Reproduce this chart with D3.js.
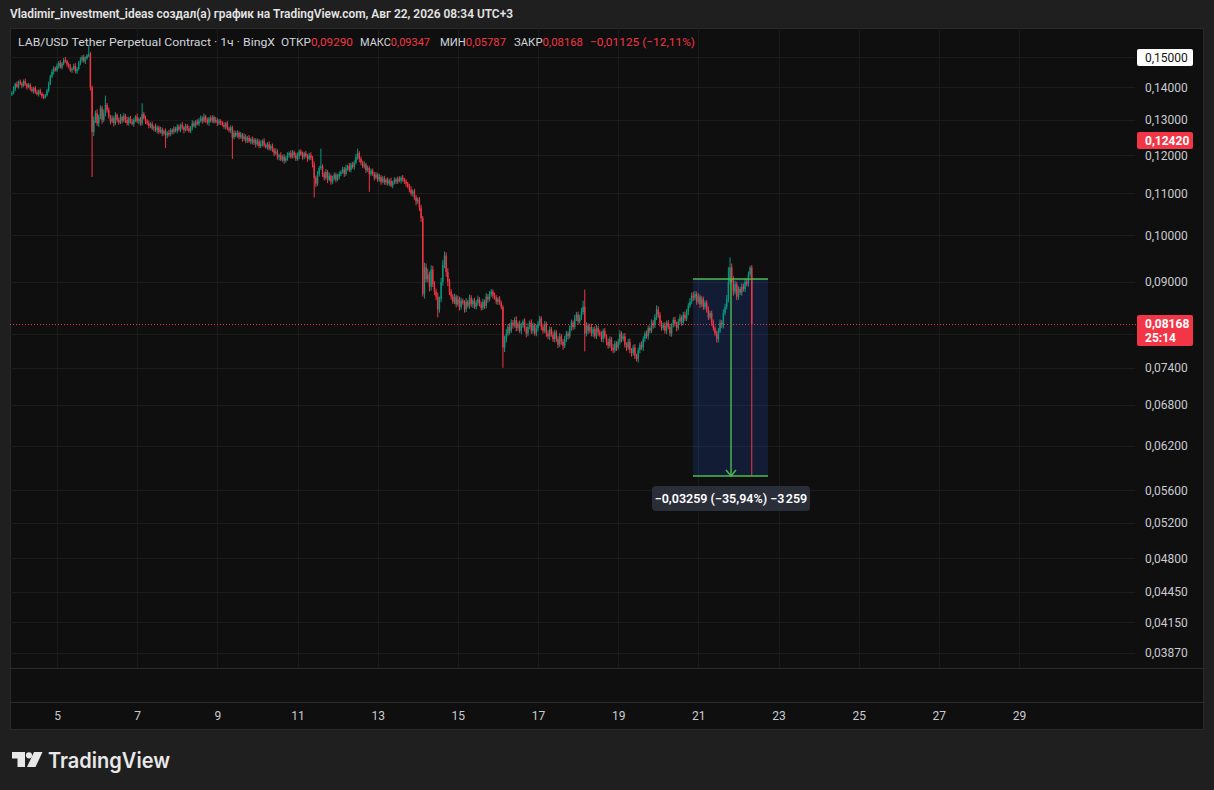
<!DOCTYPE html>
<html>
<head>
<meta charset="utf-8">
<script src="https://cdn.jsdelivr.net/npm/d3@7"></script>
<style>
  html, body { margin: 0; padding: 0; background: #1f1f1f; }
  svg { display: block; font-family: Roboto, "Liberation Sans", sans-serif; }
</style>
</head>
<body>
<svg id="chart" width="1214" height="790"></svg>
<script>
// hourly closes of LAB/USDT perp (BingX), in units of 0.0001, Aug 3 21:00 -> Aug 22 08:00
var closes = [
  1382,1395,1410,1402,1418,1412,1405,1420,1410,1400,1408,
  1395,1388,1398,1385,1378,1390,1380,1372,1368,1375,
  1390,1410,1435,1450,1462,1455,
  1470,1480,1465,1478,1490,1485,1475,
  1468,1455,1460,1470,1452,1460,1478,
  1490,1500,1485,1495,1505,
  1510,1400,1265,
  1300,1320,1290,1310,1335,1300,1320,1345,1330,
  1310,1295,1305,1290,1315,1300,1292,1308,1298,1312,1300,1290,1305,1295,1288,1300,1310,1296,1302,1290,1318,1305,1296,
  1290,1282,1288,1275,1280,1270,1278,1265,1272,1260,1268,1255,1262,1258,1270,1265,
  1275,1268,1280,1272,1285,1278,1270,1282,1275,1268,1278,1290,1283,1295,1288,1298,
  1305,1296,1310,1300,1292,1305,1298,1308,1295,1300,1290,1296,
  1292,1285,1280,1290,1275,1270,1278,
  1250,1262,
  1255,1262,1250,1258,1245,1252,1240,1248,1238,1245,1235,1242,1230,1238,1225,1232,1240,1228,1222,1230,1218,1225,
  1215,1205,1210,1195,1200,1188,1196,1185,1192,1200,
  1205,1195,1208,1200,1190,1198,1210,1202,1195,1205,1198,1190,1200,1192,
  1175,1140,1125,1150,1165,1170,1150,
  1140,1155,1135,1145,1130,1138,1148,1135,1142,1150,
  1155,1162,1150,1165,1170,1160,1175,1168,1180,
  1195,1205,1190,
  1180,1170,1175,1160,1165,1150,1158,
  1150,1140,1148,1135,1142,1130,1138,1128,1135,1125,1132,1120,1128,1135,1130,
  1138,1132,1140,1135,1130,1125,1118,
  1110,1100,1105,1090,1080,1085,
  1065,1040,875,
  930,905,915,890,925,895,880,
  870,845,865,
  900,935,955,920,
  900,880,870,
  860,870,855,865,850,862,858,845,860,852,868,855,862,850,858,865,855,848,860,852,870,865,875,880,872,868,860,865,858,
  850,775,
  790,800,812,805,820,815,
  825,810,818,805,815,822,808,800,812,820,805,815,800,810,818,
  828,812,805,818,800,795,808,798,790,802,
  790,780,795,785,778,790,800,795,
  810,820,812,828,835,822,830,840,
  850,800,
  815,805,812,800,808,795,810,802,798,790,805,
  795,785,778,790,775,770,782,775,
  785,800,790,795,780,775,785,770,765,775,760,755,
  770,780,775,790,800,795,810,805,820,815,830,
  845,835,820,810,
  815,805,820,812,800,815,825,818,810,822,830,820,835,828,
  840,852,860,872,868,
  875,860,870,855,865,850,858,
  845,830,838,820,810,800,790,
  805,820,815,838,850,865,
  900,930,
  905,880,895,870,885,878,890,
  885,900,895,915,929,
  816.8
];
// wick above / below the body, same units
var wickUp = [
  6,8,5,9,4,7,6,5,8,4,6,
  5,7,4,6,8,3,6,5,7,4,
  5,8,6,9,7,5,
  8,6,9,5,7,10,6,
  6,8,5,7,9,6,8,
  9,6,8,7,5,
  30,8,6,
  10,8,12,6,9,7,11,29,6,
  7,5,9,6,8,4,7,10,5,8,6,9,5,7,8,6,4,9,5,7,32,6,8,
  6,8,5,7,4,9,6,5,8,6,4,7,5,9,6,5,
  7,5,8,6,4,9,5,7,6,8,4,9,6,5,7,8,
  8,6,9,5,7,4,8,6,5,9,6,7,
  6,5,8,4,7,5,6,
  5,8,
  6,8,5,7,4,9,6,5,8,4,7,6,5,8,6,9,4,7,5,6,8,5,
  7,5,9,6,4,8,5,7,6,8,
  5,8,6,4,7,9,5,6,8,4,7,5,6,8,
  6,8,5,7,6,48,5,
  6,8,5,9,4,7,6,5,8,6,
  5,7,6,8,4,9,5,7,6,
  8,13,6,
  6,5,8,4,7,5,6,
  6,5,7,4,8,5,6,7,4,6,5,8,4,6,5,
  5,6,4,7,5,6,4,
  6,8,5,7,6,5,
  6,7,5,
  10,8,12,6,9,8,6,
  6,8,5,
  8,10,9,7,
  8,6,5,
  5,6,4,7,5,6,4,5,7,4,6,5,4,6,5,7,4,5,6,4,7,5,6,5,4,6,5,4,6,
  4,3,
  6,8,5,7,6,5,
  5,7,4,6,5,4,6,5,7,4,6,5,4,6,5,
  5,4,6,5,4,6,5,4,6,5,
  4,5,6,4,5,6,5,4,
  5,6,4,7,5,6,5,8,
  12,34,
  6,4,5,6,4,5,6,4,5,6,4,
  5,4,6,5,4,6,5,4,
  5,6,4,5,6,4,5,6,4,5,6,4,
  5,4,6,5,4,6,5,4,6,5,6,
  8,6,5,4,
  5,6,4,5,6,4,5,6,4,5,6,4,5,6,
  6,5,7,6,8,
  6,5,7,4,6,5,4,
  5,6,4,5,6,4,5,
  5,6,5,7,6,8,
  30,21,
  8,6,7,5,6,4,7,
  6,7,5,6,4,
  5.7
];
var wickDown = [
  5,4,7,3,6,5,8,4,5,7,3,
  6,4,8,5,3,7,4,6,5,3,
  4,6,3,5,8,4,
  5,9,4,7,6,5,8,
  7,5,8,4,6,9,5,
  6,8,5,9,4,
  6,10,123,
  12,9,7,10,8,11,6,9,8,
  6,8,4,9,5,7,6,4,8,5,9,6,7,5,4,8,6,5,9,7,6,4,8,
  5,7,6,4,8,5,9,6,4,7,5,35,8,6,5,7,
  6,4,7,5,8,6,9,4,7,5,6,8,5,7,4,6,
  5,7,4,8,6,9,5,7,6,4,8,5,
  7,4,6,8,5,6,9,
  60,6,
  5,7,6,4,8,5,7,6,4,8,5,7,9,4,6,5,8,6,4,7,5,6,
  6,8,5,7,9,4,6,8,5,7,
  7,5,4,8,6,5,9,4,7,6,5,8,4,6,
  8,50,9,6,7,5,8,
  7,5,9,4,8,6,5,7,4,6,
  6,4,8,5,7,5,6,4,7,
  5,7,9,
  7,5,6,8,5,46,6,
  5,7,4,6,5,8,4,6,7,5,6,4,7,5,6,
  6,4,7,5,6,8,5,
  7,5,8,6,9,6,
  8,9,5,
  9,7,6,10,8,6,7,
  7,15,6,
  6,8,7,10,
  9,7,6,
  4,5,6,4,7,5,4,6,5,4,6,5,7,4,5,6,4,5,4,6,5,7,4,5,6,4,5,6,4,
  5,35,
  8,6,5,7,4,6,
  4,6,5,4,6,5,4,7,5,4,6,5,4,5,6,
  4,6,5,4,6,5,7,4,5,6,
  5,6,4,5,7,4,5,6,
  4,5,6,4,5,6,4,5,
  5,32,
  5,6,4,5,6,4,5,6,4,5,6,
  4,6,5,4,6,5,4,6,
  4,5,6,4,5,6,4,5,6,4,5,4,
  6,5,4,6,5,4,6,5,4,6,5,
  5,6,7,5,
  4,5,6,4,5,6,4,5,6,4,5,6,4,5,
  5,6,4,5,6,
  5,6,4,7,5,6,5,
  6,5,4,6,5,4,6,
  6,4,5,6,4,5,
  6,5,
  6,8,5,7,6,5,6,
  5,6,4,5,6,
  238.1
];
var firstOpen = 1378;
var PRICE_UNIT = 1e-4;
var lastBarTime = new Date(2026, 7, 22, 8);

var priceTicks = [0.15, 0.14, 0.13, 0.12, 0.11, 0.10, 0.09, 0.08, 0.074, 0.068, 0.062, 0.056, 0.052, 0.048, 0.0445, 0.0415, 0.0387];
var dayTicks = [5, 7, 9, 11, 13, 15, 17, 19, 21, 23, 25, 27, 29];

var headerText = 'Vladimir_investment_ideas создал(а) график на TradingView.com, Авг 22, 2026 08:34 UTC+3';
var legendTitle = 'LAB/USD Tether Perpetual Contract · 1ч · BingX';
var legendLabels = ['ОТКР', 'МАКС', 'МИН', 'ЗАКР'];
var legendValues = ['0,09290', '0,09347', '0,05787', '0,08168'];
var legendChange = '−0,01125 (−12,11%)';

var lastPrice = 0.08168;
var countdown = '25:14';
var alertPrice = 0.1242;
var topPrice = 0.15;

var measurePrices = [0.09046, 0.05787];
var measureTimes = [new Date(2026, 7, 20, 21), new Date(2026, 7, 22, 17, 30)];
var measureText = '−0,03259 (−35,94%) −3\u202F259';

var d3 = window.d3;

var C = {
  up: '#089981', down: '#f23645', grid: '#1b1b1b', sep: '#2b2b2b',
  text: '#c9cbd0', pane: '#0f0f0f', border: '#2a2a2a'
};
var pane = { left: 10, top: 28, right: 1137, bottom: 668, edge: 1203, foot: 729 };

var fmtPrice = d => d3.format('.5f')(d).replace('.', ',');
var snap = v => Math.round(v) + 0.5;

/**
 * scales
 */
var x = d3.scaleTime()
  .domain([new Date(2026, 7, 5), new Date(2026, 7, 29)])
  .range([57, 1019]);

var y = d3.scaleLog()
  .domain([0.15, 0.0387])
  .range([57, 653]);

var bars = closes.map((c, i) => {
  var o = i ? closes[i - 1] : firstOpen;
  return {
    t: d3.timeHour.offset(lastBarTime, i - closes.length + 1),
    o: o * PRICE_UNIT,
    c: c * PRICE_UNIT,
    h: (Math.max(o, c) + (wickUp[i] || 0)) * PRICE_UNIT,
    l: (Math.min(o, c) - (wickDown[i] || 0)) * PRICE_UNIT
  };
});

var svg = d3.select('#chart');

/**
 * frame
 */
svg.append('rect')
  .attr('x', pane.left + 0.5).attr('y', pane.top + 0.5)
  .attr('width', pane.edge - pane.left).attr('height', pane.foot - pane.top)
  .attr('fill', C.pane).attr('stroke', C.border);

[pane.bottom, 702].forEach(v => {
  svg.append('line')
    .attr('x1', pane.left).attr('x2', pane.edge)
    .attr('y1', v + 0.5).attr('y2', v + 0.5)
    .attr('stroke', C.sep);
});

/**
 * grid
 */
var grid = svg.append('g').attr('shape-rendering', 'crispEdges');
grid.selectAll('.hgrid')
  .data(priceTicks)
  .enter().append('line')
    .attr('x1', pane.left).attr('x2', pane.right - 2)
    .attr('y1', d => snap(y(d))).attr('y2', d => snap(y(d)))
    .attr('stroke', C.grid);
grid.selectAll('.vgrid')
  .data(dayTicks)
  .enter().append('line')
    .attr('x1', d => snap(x(new Date(2026, 7, d))))
    .attr('x2', d => snap(x(new Date(2026, 7, d))))
    .attr('y1', pane.top).attr('y2', pane.bottom)
    .attr('stroke', C.grid);

svg.append('clipPath').attr('id', 'plot-clip')
  .append('rect')
    .attr('x', pane.left + 1).attr('y', pane.top + 1)
    .attr('width', pane.right - pane.left - 1).attr('height', pane.bottom - pane.top - 1);

var plot = svg.append('g').attr('clip-path', 'url(#plot-clip)');

/**
 * measurement box (under the candles)
 */
var mx0 = Math.round(x(measureTimes[0])), mx1 = Math.round(x(measureTimes[1]));
var my0 = Math.round(y(measurePrices[0])), my1 = Math.round(y(measurePrices[1]));
var mxc = Math.round((mx0 + mx1) / 2);

plot.append('rect')
  .attr('x', mx0).attr('y', my0)
  .attr('width', mx1 - mx0).attr('height', my1 - my0)
  .attr('fill', 'rgba(41, 98, 255, 0.16)');

/**
 * candles
 */
var BODY = 1.4;
var candle = plot.selectAll('.candle')
  .data(bars)
  .enter().append('g')
    .attr('fill', d => d.c >= d.o ? C.up : C.down)
    .attr('stroke', d => d.c >= d.o ? C.up : C.down);

candle.append('line')
  .attr('x1', d => x(d.t)).attr('x2', d => x(d.t))
  .attr('y1', d => y(d.h)).attr('y2', d => y(d.l))
  .attr('stroke-width', 1);

candle.append('rect')
  .attr('x', d => x(d.t) - BODY / 2)
  .attr('y', d => y(Math.max(d.o, d.c)))
  .attr('width', BODY)
  .attr('height', d => Math.max(1, Math.abs(y(d.o) - y(d.c))))
  .attr('stroke', 'none');

/**
 * measurement lines
 */
var GREEN = '#4cbb52';
var mlines = plot.append('g')
  .attr('stroke', GREEN).attr('stroke-width', 1.4).attr('fill', 'none');
[my0, my1].forEach(v => {
  mlines.append('line')
    .attr('x1', mx0).attr('x2', mx1)
    .attr('y1', v).attr('y2', v);
});
mlines.append('line')
  .attr('x1', mxc).attr('x2', mxc)
  .attr('y1', my0).attr('y2', my1);
mlines.append('path')
  .attr('d', `M${mxc - 5},${my1 - 6} L${mxc},${my1} L${mxc + 5},${my1 - 6}`);

var mLabel = svg.append('g').attr('transform', `translate(${mxc}, ${my1 + 10})`);
mLabel.append('rect')
  .attr('x', -79).attr('y', 0).attr('width', 158).attr('height', 25).attr('rx', 4)
  .attr('fill', '#2a2e39');
mLabel.append('text')
  .attr('x', 0).attr('y', 17)
  .attr('text-anchor', 'middle')
  .attr('fill', '#ffffff').attr('font-size', 12.5).attr('font-weight', 600)
  .text(measureText);

/**
 * last price line
 */
svg.append('line')
  .attr('x1', pane.left).attr('x2', pane.right)
  .attr('y1', snap(y(lastPrice))).attr('y2', snap(y(lastPrice)))
  .attr('stroke', C.down).attr('stroke-dasharray', '1,2');

/**
 * axes
 */
// labels that sit under a price badge are not shown (only their grid line)
var badgePrices = [topPrice, alertPrice, lastPrice];
var covered = d => badgePrices.some(p => Math.abs(y(p) - y(d)) < 10);

var yAxis = d3.axisRight(y)
  .tickValues(priceTicks.filter(d => !covered(d)))
  .tickFormat(fmtPrice)
  .tickSize(0)
  .tickPadding(8);

svg.append('g')
  .attr('transform', `translate(${pane.right}, 0)`)
  .call(yAxis)
  .call(g => g.select('.domain').remove())
  .call(g => g.selectAll('text')
    .attr('fill', C.text).attr('font-size', 12)
    .attr('font-family', 'Roboto, "Liberation Sans", sans-serif'));

var xAxis = d3.axisBottom(x)
  .tickValues(dayTicks.map(d => new Date(2026, 7, d)))
  .tickFormat(d3.timeFormat('%-d'))
  .tickSize(0)
  .tickPadding(0);

svg.append('g')
  .attr('transform', 'translate(0, 711)')
  .call(xAxis)
  .call(g => g.select('.domain').remove())
  .call(g => g.selectAll('text')
    .attr('fill', C.text).attr('font-size', 12)
    .attr('font-family', 'Roboto, "Liberation Sans", sans-serif'));

/**
 * price badges on the axis
 */
var badge = (price, bg, fg, lines) => {
  var cy = y(price);
  var h = lines.length > 1 ? 31 : 17;
  var top = Math.round(lines.length > 1 ? cy - 9 : cy - 8.5);
  var g = svg.append('g');
  g.append('rect')
    .attr('x', pane.right).attr('y', top)
    .attr('width', 56).attr('height', h).attr('rx', 2)
    .attr('fill', bg);
  lines.forEach((t, k) => {
    g.append('text')
      .attr('x', pane.right + 8).attr('y', top + 12.5 + k * 14)
      .attr('fill', fg).attr('font-size', 12)
      .attr('font-weight', bg === '#ffffff' ? 400 : 700)
      .text(t);
  });
};
badge(topPrice, '#ffffff', '#131313', [fmtPrice(topPrice)]);
badge(alertPrice, C.down, '#ffffff', [fmtPrice(alertPrice)]);
badge(lastPrice, C.down, '#ffffff', [fmtPrice(lastPrice), countdown]);

/**
 * header and legend
 */
svg.append('text')
  .attr('x', 10).attr('y', 18)
  .attr('fill', '#e4e4e4').attr('font-size', 12).attr('font-weight', 600)
  .attr('textLength', 503).attr('lengthAdjust', 'spacingAndGlyphs')
  .text(headerText);

var legend = svg.append('g').attr('font-size', 11.5);
legend.append('text')
  .attr('x', 18).attr('y', 46)
  .attr('fill', '#d1d4dc')
  .attr('textLength', 257).attr('lengthAdjust', 'spacingAndGlyphs')
  .text(legendTitle);

// each "label + value" pair is one text squeezed to its width in the picture
var pairX = [281, 360, 440, 514], pairW = [72, 70, 66, 69];
legendLabels.forEach((t, k) => {
  var txt = legend.append('text')
    .attr('x', pairX[k]).attr('y', 46)
    .attr('textLength', pairW[k]).attr('lengthAdjust', 'spacingAndGlyphs');
  txt.append('tspan').attr('fill', '#d1d4dc').text(t);
  txt.append('tspan').attr('fill', C.down).text(legendValues[k]);
});
legend.append('text')
  .attr('x', 590).attr('y', 46).attr('fill', C.down)
  .attr('textLength', 105).attr('lengthAdjust', 'spacingAndGlyphs')
  .text(legendChange);

/**
 * TradingView mark
 */
var logo = svg.append('g').attr('transform', 'translate(12, 752)').attr('fill', '#e8e8e8');
logo.append('path').attr('d', 'M0 0 H13 V15 H5.5 V6.5 H0 Z');
logo.append('circle').attr('cx', 17).attr('cy', 3.3).attr('r', 3.1);
logo.append('path').attr('d', 'M22 0 H30.5 L23.5 15 H15 Z');
svg.append('text')
  .attr('x', 48).attr('y', 768)
  .attr('fill', '#e8e8e8')
  .attr('font-family', 'Inter, Roboto, sans-serif')
  .attr('font-size', 21).attr('font-weight', 600)
  .attr('textLength', 122).attr('lengthAdjust', 'spacingAndGlyphs')
  .text('TradingView');

if (closes.length !== wickUp.length || closes.length !== wickDown.length) {
  console.error('length mismatch', closes.length, wickUp.length, wickDown.length);
}
</script>
</body>
</html>
